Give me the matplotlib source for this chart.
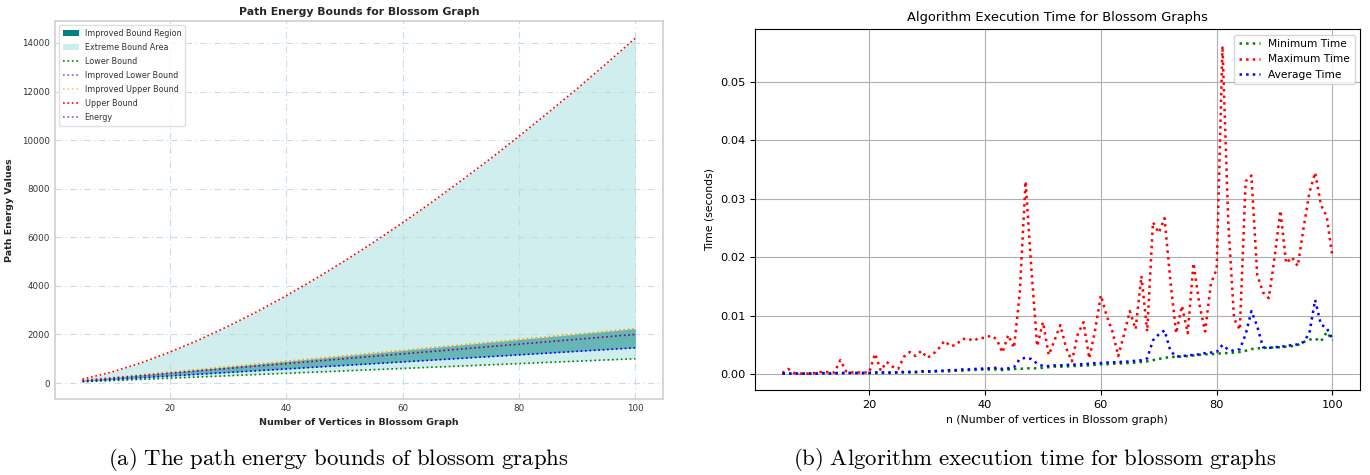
import matplotlib
matplotlib.use("Agg")
import matplotlib.pyplot as plt
from matplotlib.patches import Patch
from matplotlib.lines import Line2D

# left chart: bound values read at every 5 vertices
n_bounds = [5, 10, 15, 20, 25, 30, 35, 40, 45, 50, 55, 60, 65, 70, 75, 80, 85, 90, 95, 100]
lower_bound = [50, 100, 150, 200, 250, 300, 350, 400, 450, 500, 550, 600, 650, 700, 750, 800, 850, 900, 950, 1000]
improved_lower = [72, 145, 217, 290, 362, 435, 507, 580, 652, 725, 797, 870, 942, 1015, 1087, 1160, 1232, 1305, 1377, 1450]
energy = [100, 200, 300, 400, 500, 600, 700, 800, 900, 1000, 1100, 1200, 1300, 1400, 1500, 1600, 1700, 1800, 1900, 2000]
improved_upper = [112, 224, 336, 448, 560, 672, 784, 896, 1008, 1120, 1232, 1344, 1456, 1568, 1680, 1792, 1904, 2016, 2128, 2240]
upper_bound = [160, 450, 825, 1270, 1775, 2335, 2940, 3590, 4290, 5020, 5790, 6600, 7440, 8320, 9220, 10160, 11130, 12120, 13150, 14200]

# right chart: execution times, n = 5..100
n_time = list(range(5, 101))
min_time = [0.0001, 0.0001, 0.0001, 0.0001, 0.0001, 0.0001, 0.0001, 0.0001, 0.0001, 0.0001, 0.0002, 0.0002, 0.0002, 0.0002, 0.0002, 0.0002,
            0.0002, 0.0002, 0.0002, 0.0002, 0.0003, 0.0003, 0.0003, 0.0003, 0.0004, 0.0004,
            0.0004, 0.0005, 0.0005, 0.0005, 0.0006, 0.0006, 0.0007, 0.0007, 0.0008, 0.0008,
            0.0008, 0.0008, 0.0007, 0.0008, 0.0009, 0.0009, 0.0010, 0.0010, 0.0010, 0.0011,
            0.0012, 0.0013, 0.0013, 0.0013, 0.0014, 0.0014, 0.0015, 0.0015, 0.0016, 0.0017,
            0.0017, 0.0018, 0.0018, 0.0019, 0.0019, 0.0020, 0.0021, 0.0022, 0.0024, 0.0026,
            0.0028, 0.0029, 0.0030, 0.0030, 0.0031, 0.0032, 0.0033, 0.0034, 0.0034, 0.0035,
            0.0036, 0.0036, 0.0037, 0.0038, 0.0040, 0.0043, 0.0044, 0.0045, 0.0045, 0.0046,
            0.0046, 0.0047, 0.0048, 0.0050, 0.0055, 0.0059, 0.0061, 0.0056, 0.0072, 0.0058]
max_time = [0.0002, 0.0009, 0.0002, 0.0001, 0.0001, 0.0001, 0.0003, 0.0004, 0.0003, 0.0003, 0.0024, 0.0005, 0.0003, 0.0003, 0.0003, 0.0003,
            0.0035, 0.0006, 0.0021, 0.0013, 0.0009, 0.0030, 0.0038, 0.0031, 0.0040, 0.0028,
            0.0034, 0.0044, 0.0057, 0.0048, 0.0050, 0.0060, 0.0061, 0.0057, 0.0062, 0.0062,
            0.0066, 0.0060, 0.0037, 0.0067, 0.0045, 0.0140, 0.0330, 0.0180, 0.0048, 0.0089,
            0.0033, 0.0058, 0.0084, 0.0045, 0.0022, 0.0068, 0.0089, 0.0027, 0.0075, 0.0135,
            0.0100, 0.0073, 0.0031, 0.0068, 0.0108, 0.0077, 0.0168, 0.0073, 0.0260, 0.0242,
            0.0267, 0.0160, 0.0070, 0.0117, 0.0070, 0.0190, 0.0120, 0.0073, 0.0155, 0.0180,
            0.0562, 0.0260, 0.0095, 0.0076, 0.0330, 0.0340, 0.0170, 0.0140, 0.0130, 0.0200,
            0.0280, 0.0190, 0.0200, 0.0185, 0.0250, 0.0310, 0.0345, 0.0290, 0.0270, 0.0200]
avg_time = [0.0001, 0.0001, 0.0001, 0.0001, 0.0001, 0.0001, 0.0001, 0.0002, 0.0001, 0.0002, 0.0002, 0.0002, 0.0002, 0.0002, 0.0002, 0.0002,
            0.0003, 0.0003, 0.0003, 0.0003, 0.0003, 0.0004, 0.0004, 0.0004, 0.0005, 0.0005,
            0.0005, 0.0006, 0.0006, 0.0007, 0.0007, 0.0008, 0.0008, 0.0009, 0.0009, 0.0010,
            0.0010, 0.0011, 0.0009, 0.0010, 0.0012, 0.0026, 0.0028, 0.0026, 0.0018, 0.0014,
            0.0014, 0.0015, 0.0015, 0.0016, 0.0016, 0.0017, 0.0017, 0.0018, 0.0019, 0.0019,
            0.0020, 0.0020, 0.0021, 0.0021, 0.0022, 0.0023, 0.0024, 0.0027, 0.0058, 0.0068,
            0.0075, 0.0040, 0.0030, 0.0031, 0.0032, 0.0033, 0.0034, 0.0036, 0.0037, 0.0038,
            0.0050, 0.0042, 0.0040, 0.0043, 0.0068, 0.0108, 0.0082, 0.0046, 0.0045, 0.0046,
            0.0047, 0.0048, 0.0050, 0.0051, 0.0055, 0.0070, 0.0127, 0.0085, 0.0079, 0.0060]

fig = plt.figure(figsize=(13.7, 4.75), dpi=100)

# ---------------- left: path energy bounds ----------------
ax1 = fig.add_axes([0.040, 0.160, 0.444, 0.796])
ax1.fill_between(n_bounds, lower_bound, upper_bound, color='#b2e3e3', alpha=0.6, lw=0)
ax1.fill_between(n_bounds, improved_lower, improved_upper, color='teal', alpha=0.5, lw=0)
ax1.plot(n_bounds, lower_bound, ':', color='green', lw=1.2)
ax1.plot(n_bounds, improved_lower, ':', color='blue', lw=1.2)
ax1.plot(n_bounds, improved_upper, ':', color='orange', lw=1.2)
ax1.plot(n_bounds, upper_bound, ':', color='red', lw=1.2)
ax1.plot(n_bounds, energy, ':', color='purple', lw=1.2)

ax1.set_title("Path Energy Bounds for Blossom Graph", fontsize=7.8, fontweight='bold', color='#262626', pad=4)
ax1.set_xlabel("Number of Vertices in Blossom Graph", fontsize=6.8, fontweight='bold', color='#262626')
ax1.set_ylabel("Path Energy Values", fontsize=6.8, fontweight='bold', color='#262626', labelpad=6)
ax1.grid(True, color='#c5dcf0', linestyle=(0, (6, 3, 1, 3)), lw=0.8)
ax1.set_axisbelow(True)
ax1.tick_params(labelsize=6.3, colors='#333333', length=0)
for s in ax1.spines.values():
    s.set_color('#d0d0d0')
    s.set_linewidth(1.2)

handles = [
    Patch(facecolor='teal', label='Improved Bound Region'),
    Patch(facecolor='#cdeeee', label='Extreme Bound Area'),
    Line2D([], [], ls=':', color='green', lw=1.2, label='Lower Bound'),
    Line2D([], [], ls=':', color='blue', alpha=0.6, lw=1.2, label='Improved Lower Bound'),
    Line2D([], [], ls=':', color='orange', alpha=0.6, lw=1.2, label='Improved Upper Bound'),
    Line2D([], [], ls=':', color='red', lw=1.2, label='Upper Bound'),
    Line2D([], [], ls=':', color='purple', alpha=0.7, lw=1.2, label='Energy'),
]
leg1 = ax1.legend(handles=handles, loc='upper left', fontsize=5.8, frameon=True,
                  handlelength=2.0, borderpad=0.5, labelspacing=0.62, handletextpad=0.7)
leg1.get_frame().set_edgecolor('#d8d8d8')
for t in leg1.get_texts():
    t.set_color('#333333')

# ---------------- right: execution times ----------------
ax2 = fig.add_axes([0.551, 0.179, 0.4417, 0.759])
ax2.plot(n_time, min_time, ':', color='green', lw=1.8, label='Minimum Time')
ax2.plot(n_time, max_time, ':', color='red', lw=1.8, label='Maximum Time')
ax2.plot(n_time, avg_time, ':', color='blue', lw=1.8, label='Average Time')
ax2.set_title("Algorithm Execution Time for Blossom Graphs", fontsize=9.4)
ax2.set_xlabel("n (Number of vertices in Blossom graph)", fontsize=7.8)
ax2.set_ylabel("Time (seconds)", fontsize=7.8)
ax2.tick_params(labelsize=8.2)
ax2.grid(True)
ax2.legend(loc='upper right', fontsize=7.7)

# sub-figure captions
plt.rcParams['mathtext.fontset'] = 'cm'
fig.text(0.247, 0.032, r'$\mathrm{(a)\ The\ path\ energy\ bounds\ of\ blossom\ graphs}$',
         ha='center', va='center', fontsize=16.4)
fig.text(0.755, 0.032, r'$\mathrm{(b)\ Algorithm\ execution\ time\ for\ blossom\ graphs}$',
         ha='center', va='center', fontsize=16.4)

fig.savefig("out.png", dpi=100)
